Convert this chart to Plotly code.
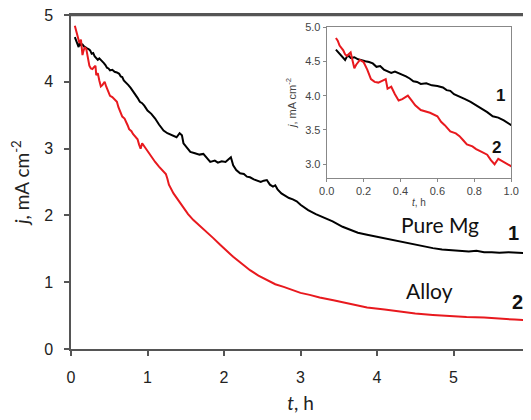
import plotly.graph_objects as go

# ---- data ----
pure_t = [0.05, 0.06, 0.07, 0.08, 0.09, 0.10, 0.11, 0.12, 0.13, 0.15, 0.17, 0.19, 0.21, 0.23, 0.25,
          0.27, 0.29, 0.31, 0.33, 0.35, 0.37, 0.39, 0.41, 0.43, 0.45, 0.47, 0.49, 0.51, 0.54, 0.57,
          0.60, 0.63, 0.65, 0.67, 0.69, 0.72, 0.75, 0.78, 0.81, 0.84, 0.87, 0.90, 0.93, 0.96, 0.98,
          1.00, 1.05, 1.10, 1.15, 1.21, 1.26, 1.30, 1.34, 1.38, 1.42, 1.45, 1.47, 1.52, 1.56, 1.62,
          1.68, 1.73, 1.78, 1.82, 1.88, 1.92, 1.97, 2.02, 2.06, 2.09, 2.12, 2.16, 2.21, 2.26, 2.30,
          2.34, 2.39, 2.43, 2.48, 2.52, 2.56, 2.60, 2.64, 2.67, 2.70, 2.75, 2.80, 2.85, 2.90, 2.95,
          3.00, 3.05, 3.10, 3.20, 3.30, 3.42, 3.55, 3.65, 3.75, 3.87, 4.00, 4.15, 4.30, 4.40, 4.50,
          4.62, 4.73, 4.85, 4.95, 5.10, 5.20, 5.30, 5.40, 5.50, 5.60, 5.72, 5.83, 5.92, 6.00]
pure_j = [4.67, 4.64, 4.62, 4.58, 4.55, 4.52, 4.57, 4.58, 4.55, 4.56, 4.53, 4.51, 4.50, 4.49, 4.47,
          4.42, 4.43, 4.38, 4.35, 4.33, 4.35, 4.33, 4.30, 4.28, 4.25, 4.21, 4.20, 4.17, 4.18, 4.15,
          4.14, 4.12, 4.08, 4.07, 4.02, 3.99, 3.95, 3.91, 3.86, 3.82, 3.76, 3.70, 3.68, 3.64, 3.61,
          3.57, 3.52, 3.45, 3.36, 3.27, 3.23, 3.21, 3.19, 3.17, 3.23, 3.20, 3.08, 3.00, 2.95, 2.93,
          2.91, 2.92, 2.85, 2.80, 2.82, 2.79, 2.81, 2.80, 2.84, 2.87, 2.75, 2.68, 2.63, 2.62, 2.58,
          2.57, 2.54, 2.52, 2.50, 2.52, 2.53, 2.46, 2.43, 2.45, 2.39, 2.33, 2.29, 2.26, 2.24, 2.21,
          2.16, 2.12, 2.08, 2.02, 1.97, 1.91, 1.83, 1.78, 1.74, 1.71, 1.68, 1.64, 1.61, 1.58, 1.56,
          1.53, 1.51, 1.49, 1.48, 1.47, 1.46, 1.47, 1.45, 1.45, 1.44, 1.45, 1.44, 1.44, 1.43]

alloy_t = [0.05, 0.06, 0.07, 0.08, 0.09, 0.10, 0.11, 0.13, 0.14, 0.15, 0.16, 0.18, 0.20, 0.22, 0.24,
           0.26, 0.28, 0.30, 0.32, 0.33, 0.35, 0.37, 0.39, 0.41, 0.44, 0.46, 0.48, 0.51, 0.54, 0.56,
           0.60, 0.62, 0.64, 0.67, 0.70, 0.72, 0.74, 0.76, 0.79, 0.81, 0.84, 0.87, 0.89, 0.91, 0.93,
           0.96, 1.00, 1.05, 1.10, 1.15, 1.20, 1.24, 1.26, 1.28, 1.34, 1.40, 1.47, 1.53, 1.60, 1.68,
           1.77, 1.86, 1.95, 2.03, 2.12, 2.23, 2.34, 2.45, 2.56, 2.67, 2.78, 2.90, 3.00, 3.12, 3.25,
           3.43, 3.65, 3.87, 4.10, 4.30, 4.50, 4.73, 4.95, 5.17, 5.40, 5.61, 5.80, 6.00]
alloy_j = [4.84, 4.80, 4.73, 4.69, 4.66, 4.60, 4.58, 4.63, 4.52, 4.40, 4.45, 4.52, 4.49, 4.38, 4.24,
           4.20, 4.19, 4.22, 4.24, 4.10, 4.13, 4.02, 3.93, 3.95, 4.00, 3.93, 3.86, 3.79, 3.77, 3.75,
           3.70, 3.62, 3.57, 3.48, 3.45, 3.41, 3.35, 3.29, 3.26, 3.22, 3.18, 3.14, 3.06, 3.00, 3.08,
           3.03, 2.96, 2.88, 2.80, 2.73, 2.66, 2.62, 2.55, 2.46, 2.33, 2.23, 2.11, 2.02, 1.93, 1.85,
           1.76, 1.66, 1.56, 1.47, 1.38, 1.28, 1.18, 1.10, 1.03, 0.97, 0.93, 0.88, 0.84, 0.81, 0.77,
           0.73, 0.67, 0.62, 0.59, 0.56, 0.53, 0.51, 0.49, 0.48, 0.47, 0.46, 0.44, 0.43]

main_x_ticks = [0, 1, 2, 3, 4, 5, 6]
main_y_ticks = [0, 1, 2, 3, 4, 5]
inset_x_ticks = [0.0, 0.2, 0.4, 0.6, 0.8, 1.0]
inset_y_ticks = [3.0, 3.5, 4.0, 4.5, 5.0]

BLACK = "#000000"
RED = "#e8191e"
AXIS = "#555555"
TICKFONT = "Liberation Sans"
TITLEFONT = "Lato"

fig = go.Figure()
fig.add_trace(go.Scatter(x=pure_t, y=pure_j, mode="lines", line=dict(color=BLACK, width=2),
                         xaxis="x", yaxis="y", showlegend=False))
fig.add_trace(go.Scatter(x=alloy_t, y=alloy_j, mode="lines", line=dict(color=RED, width=2),
                         xaxis="x", yaxis="y", showlegend=False))
fig.add_trace(go.Scatter(x=pure_t, y=pure_j, mode="lines", line=dict(color=BLACK, width=2),
                         xaxis="x2", yaxis="y2", showlegend=False))
fig.add_trace(go.Scatter(x=alloy_t, y=alloy_j, mode="lines", line=dict(color=RED, width=2),
                         xaxis="x2", yaxis="y2", showlegend=False))

fig.update_layout(
    width=523, height=412,
    margin=dict(l=63, r=1, t=7, b=71, autoexpand=False),
    paper_bgcolor="white", plot_bgcolor="white",
    xaxis=dict(range=[0, 6], tickvals=main_x_ticks, showgrid=False, zeroline=False,
               automargin=False, ticklabeloverflow="allow",
               showline=True, linecolor=AXIS, linewidth=1.5, mirror=True,
               ticks="outside", ticklen=5, tickcolor=AXIS, tickwidth=1.5,
               ticklabelstandoff=8,
               tickfont=dict(family=TICKFONT, size=16, color="#222"),
               title=dict(text="<i>t</i>, h", font=dict(family=TITLEFONT, size=19, color="#222"),
                          standoff=12),
               domain=[0, 1]),
    yaxis=dict(range=[0, 5], tickvals=main_y_ticks, showgrid=False, zeroline=False,
               automargin=False, ticklabeloverflow="allow",
               showline=True, linecolor=AXIS, linewidth=1.5,
               ticks="outside", ticklen=5, tickcolor=AXIS, tickwidth=1.5,
               ticklabelstandoff=8,
               tickfont=dict(family=TICKFONT, size=16, color="#222"),
               title=dict(text="<i>j</i>, mA cm<sup>-2</sup>",
                          font=dict(family=TITLEFONT, size=19, color="#222"), standoff=12),
               domain=[0, 1]),
    xaxis2=dict(domain=[0.557, 0.959], anchor="y2", range=[0, 1], tickvals=inset_x_ticks,
                tickformat=".1f", showgrid=False, zeroline=False, automargin=False,
                ticklabeloverflow="allow",
                showline=True, linecolor="#888", linewidth=1, mirror=True,
                ticks="outside", ticklen=3, tickcolor="#888",
                tickfont=dict(family=TICKFONT, size=11, color="#444"),
                title=dict(text="<i>t</i>, h", font=dict(family=TICKFONT, size=10, color="#444"),
                           standoff=2)),
    yaxis2=dict(domain=[0.512, 0.964], anchor="x2", range=[2.8, 5.0], tickvals=inset_y_ticks,
                tickformat=".1f", showgrid=False, zeroline=False, automargin=False,
                ticklabeloverflow="allow",
                showline=True, linecolor="#888", linewidth=1, mirror=True,
                ticks="outside", ticklen=3, tickcolor="#888",
                tickfont=dict(family=TICKFONT, size=11, color="#444"),
                title=dict(text="<i>j</i>, mA cm<sup>-2</sup>",
                           font=dict(family=TICKFONT, size=11, color="#444"), standoff=6)),
)

# top frame line of the main plot
fig.add_shape(type="line", xref="x", yref="y", x0=0, x1=6.2, y0=4.995, y1=4.995,
              line=dict(color=AXIS, width=2), layer="above")

annots = [
    dict(x=4.82, y=1.86, text="Pure Mg", font=dict(family=TITLEFONT, size=21, color="#111")),
    dict(x=5.78, y=1.74, text="<b>1</b>", font=dict(family=TICKFONT, size=20, color="#111")),
    dict(x=4.69, y=0.88, text="Alloy", font=dict(family=TITLEFONT, size=21, color="#111")),
    dict(x=5.83, y=0.70, text="<b>2</b>", font=dict(family=TICKFONT, size=20, color="#111")),
]
for a in annots:
    fig.add_annotation(xref="x", yref="y", showarrow=False, **a)
fig.add_annotation(xref="x2", yref="y2", x=0.94, y=4.0, text="<b>1</b>", showarrow=False,
                   font=dict(family=TICKFONT, size=17, color="#111"))
fig.add_annotation(xref="x2", yref="y2", x=0.92, y=3.25, text="<b>2</b>", showarrow=False,
                   font=dict(family=TICKFONT, size=17, color="#111"))

fig.write_html("out.html")
